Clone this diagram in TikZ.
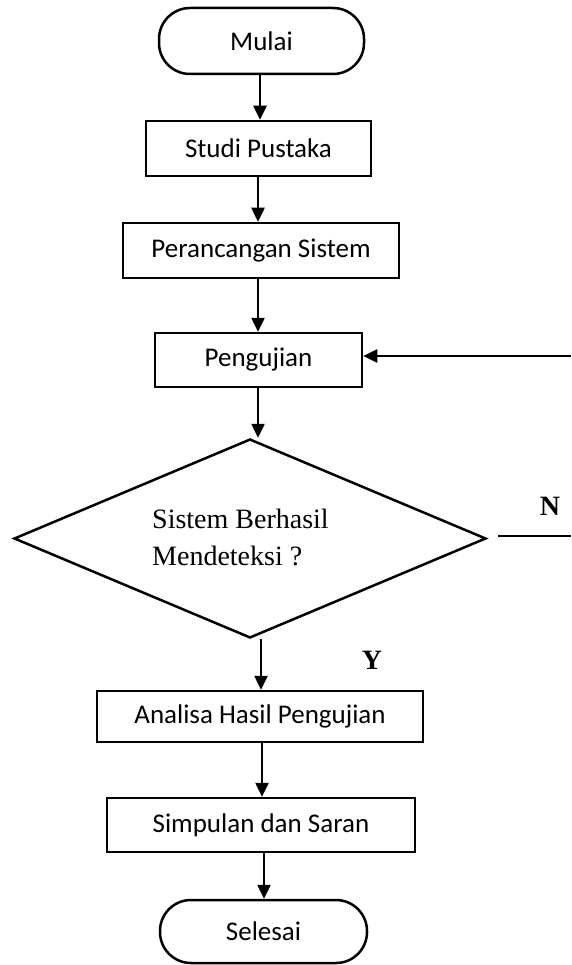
\documentclass[tikz,border=0pt]{standalone}
\usepackage{fontspec}
\newfontfamily\boxfont{Carlito}
\newfontfamily\serfont{Liberation Serif}
\usetikzlibrary{arrows.meta,shapes.geometric}
\begin{document}
\begin{tikzpicture}[x=1pt,y=-1pt,
  base/.style={draw=black,line width=2.5pt,inner sep=0pt,font=\boxfont\fontsize{27}{32}\selectfont},
  procbox/.style={base,rectangle},
  termbox/.style={base,rectangle,rounded corners=31pt},
  decbox/.style={draw=black,line width=2.5pt,diamond,inner sep=0pt,aspect=2.37},
  arr/.style={line width=2.5pt,-{Triangle[length=14pt,width=13pt]}},
  plain/.style={line width=2.5pt},
  lab/.style={font=\serfont\bfseries\fontsize{28}{32}\selectfont,inner sep=0pt}
]
\useasboundingbox (0,0) rectangle (571,965);

\node[termbox,minimum width=205pt,minimum height=66pt] (mulai) at (261.5,41) {Mulai};
\node[procbox,minimum width=225pt,minimum height=55pt] (studi) at (258.5,148.5) {Studi Pustaka};
\node[procbox,minimum width=276pt,minimum height=55pt] (peran) at (261,250.5) {Perancangan Sistem};
\node[procbox,minimum width=207pt,minimum height=54pt] (uji) at (258.5,360) {Pengujian};
\node[decbox,minimum width=472pt,minimum height=199pt] (dec) at (250,538.5) {};
\node[anchor=west,inner sep=0pt,align=left,font=\serfont\fontsize{28}{37}\selectfont] (dectext) at (152,537) {Sistem Berhasil\\Mendeteksi ?};
\node[procbox,minimum width=326pt,minimum height=51pt] (analisa) at (260,716.5) {Analisa Hasil Pengujian};
\node[procbox,minimum width=308pt,minimum height=54pt] (simpul) at (261,825) {Simpulan dan Saran};
\node[termbox,minimum width=207pt,minimum height=63pt] (selesai) at (263.5,931.5) {Selesai};

\node[lab] (nlab) at (550,506) {N};
\node[lab] (ylab) at (372,660) {Y};

\coordinate (nstart) at (498,536);
\coordinate (nend) at (571,536);
\coordinate (back) at (571,356);

\draw[arr] (mulai.south -| 260,0) -- (studi.north -| 260,0);
\draw[arr] (studi.south -| 258,0) -- (peran.north -| 258,0);
\draw[arr] (peran.south -| 258,0) -- (uji.north -| 258,0);
\draw[arr] (uji.south -| 258,0) -- (dec.north -| 258,0);
\draw[arr] (dec.south -| 261,0) -- (analisa.north -| 261,0);
\draw[arr] (analisa.south -| 262,0) -- (simpul.north -| 262,0);
\draw[arr] (simpul.south -| 264,0) -- (selesai.north -| 264,0);
\draw[plain] (nstart) -- (nend);
\draw[arr] (back) -- (uji.east |- back);
\end{tikzpicture}
\end{document}
